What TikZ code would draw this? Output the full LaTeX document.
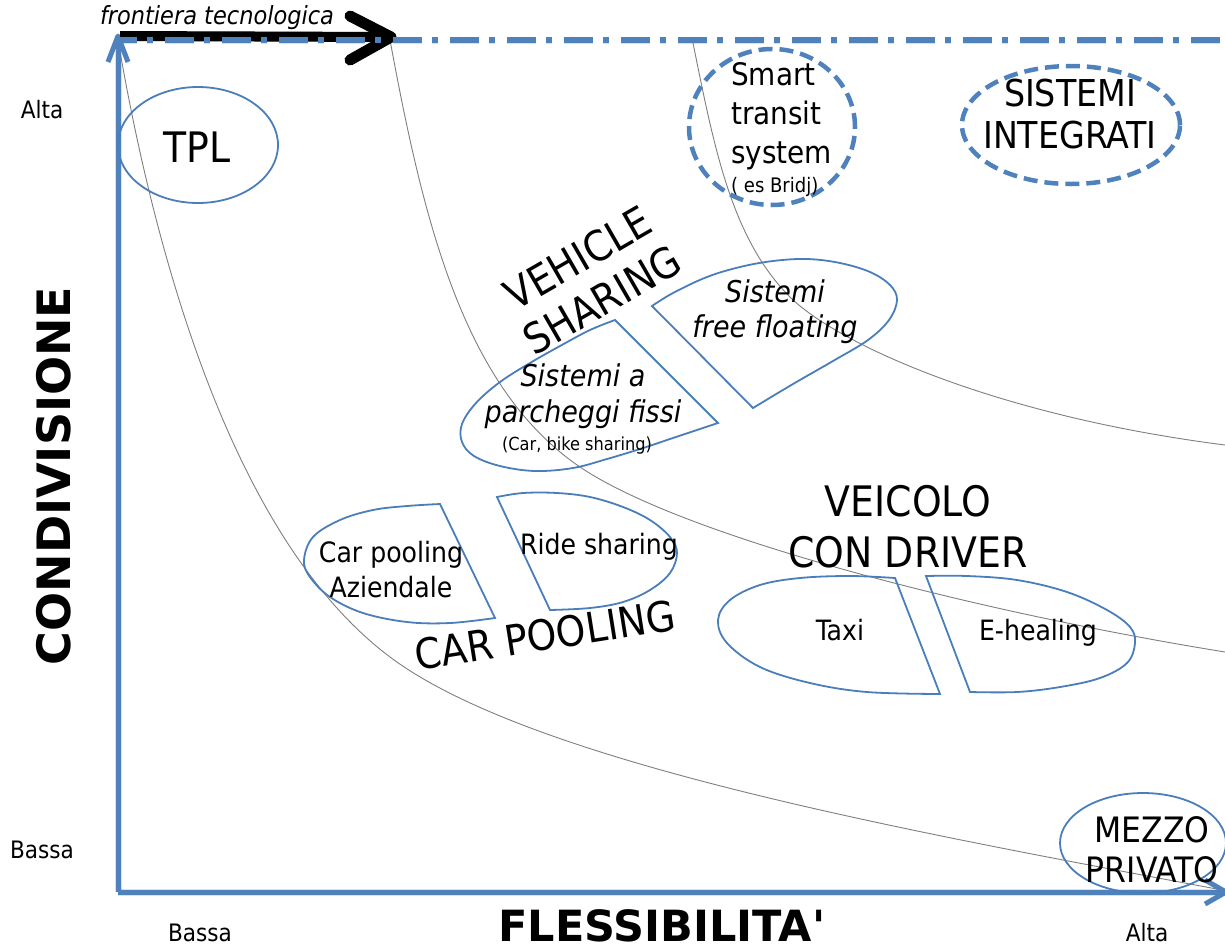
\documentclass[tikz,border=0pt]{standalone}
\usepackage{fontspec}
\setmainfont{DejaVu Sans Condensed}
\newfontfamily\axisfont{DejaVu Sans}
\usetikzlibrary{arrows.meta}
\definecolor{axblue}{HTML}{4F81BD}
\definecolor{shapeblue}{HTML}{4A7EBB}
\definecolor{curvegray}{HTML}{7F7F7F}
\newcommand\fsz[2]{\fontsize{#1}{#2}\selectfont}
\begin{document}
\begin{tikzpicture}[x=1pt,y=-1pt,
  axisline/.style={axblue, line width=5pt},
  shadowline/.style={black, opacity=0.12, line width=7pt, shift={(1.5,3)}},
  frontdash/.style={dash pattern=on 29pt off 10pt on 6pt off 12pt, dash phase=10pt},
  curve/.style={curvegray, line width=0.9pt},
  region/.style={shapeblue, line width=1.8pt, line join=miter},
  dashreg/.style={axblue, line width=4.5pt, dash pattern=on 14pt off 7pt},
  lbl/.style={inner sep=0pt, text=black, align=center},
]
\useasboundingbox (0,0) rectangle (1225,951);

% key points
\coordinate (O) at (118,892);
\coordinate (Ytop) at (118,36);
\coordinate (YarmA) at (108,62);
\coordinate (YarmB) at (128,62);
\coordinate (Xend) at (1226,892);
\coordinate (XarmA) at (1205,880);
\coordinate (XarmB) at (1205,904);
\coordinate (FrontL) at (118,40);
\coordinate (FrontR) at (1225,40);
\coordinate (BlackL) at (120,36);
\coordinate (BlackTip) at (391,37);
\coordinate (BlackA) at (350,16);
\coordinate (BlackB) at (350,60);

% soft shadows
\draw[shadowline] (O) -- (Ytop);
\draw[shadowline] (O) -- (Xend);
\draw[shadowline, line width=10pt] (BlackL) -- (BlackTip);
\draw[shadowline, frontdash] (FrontL) -- (FrontR);

% iso curves
\coordinate (c1a) at (118,40);
\coordinate (c1m) at (390,657);
\coordinate (c1b) at (1222,890);
\coordinate (c2a) at (390,40);
\coordinate (c2m) at (580,467);
\coordinate (c2b) at (1225,652);
\coordinate (c3a) at (692,38);
\coordinate (c3m) at (790,297);
\coordinate (c3b) at (1225,445);
\draw[curve] (c1a) .. controls (158,273) and (238,543) .. (c1m) .. controls (534,765) and (925,834) .. (c1b);
\draw[curve] (c2a) .. controls (424,224) and (464,388) .. (c2m) .. controls (679,534) and (960,609) .. (c2b);
\draw[curve] (c3a) .. controls (714,147) and (731,238) .. (c3m) .. controls (835,342) and (990,415) .. (c3b);

% axes
\draw[axisline] (O) -- (Ytop);
\draw[axisline, line join=round] (YarmA) -- (Ytop) -- (YarmB);
\draw[axisline] (O) -- (Xend);
\draw[axisline, line join=round] (XarmA) -- (Xend) -- (XarmB);

% frontiera tecnologica arrow
\draw[black, line width=10pt] (BlackL) -- (BlackTip);
\draw[black, line width=11pt, line cap=round, line join=round] (BlackA) -- (BlackTip) -- (BlackB);
\draw[axblue, line width=5.5pt, frontdash] (FrontL) -- (FrontR);

% ellipses
\draw[region] (198,145) ellipse [x radius=80pt, y radius=58pt];
\draw[region] (1143,843) ellipse [x radius=83pt, y radius=50pt];
\draw[dashreg] (772,127) ellipse [x radius=83pt, y radius=78pt];
\draw[dashreg] (1071,125) ellipse [x radius=109pt, y radius=59pt];

% cut ellipses
\draw[region] plot[smooth, tension=0.6] coordinates {(615,320) (590,330) (560,346) (530,363) (500,382) (476,403) (462,424) (462,442) (474,456) (500,466) (535,471) (573,468) (607,459) (640,449) (673,438) (718,423)} -- cycle;
\draw[region] plot[smooth, tension=0.6] coordinates {(652,306) (673,293) (707,277) (740,267) (773,261) (807,259) (840,263) (870,272) (890,285) (897,300) (889,320) (868,340) (833,361) (793,384) (753,408)} -- cycle;
\draw[region] plot[smooth, tension=0.6] coordinates {(440,504) (407,506) (373,510) (340,520) (313,537) (304,560) (310,577) (330,597) (363,613) (407,622) (450,623) (495,618)} -- cycle;
\draw[region] plot[smooth, tension=0.6] coordinates {(497,497) (523,493) (557,493) (590,497) (623,507) (650,520) (670,537) (677,553) (670,573) (650,590) (623,602) (590,608) (550,610)} -- cycle;
\draw[region] plot[smooth, tension=0.6] coordinates {(895,578) (850,576) (800,578) (760,585) (730,600) (718,620) (727,643) (760,667) (810,683) (867,692) (940,694)} -- cycle;
\draw[region] plot[smooth, tension=0.6] coordinates {(926,576) (967,576) (1017,580) (1067,592) (1107,610) (1130,627) (1135,643) (1127,663) (1100,678) (1060,687) (1017,692) (970,692)} -- cycle;

% texts
\node[lbl, font=\itshape\fsz{25}{30}] (front) at (217,18) {frontiera tecnologica};
\node[lbl, font=\fsz{24}{28}] (altaY) at (42,110) {Alta};
\node[lbl, font=\fsz{24}{28}] (bassaY) at (42,850) {Bassa};
\node[lbl, font=\fsz{24}{28}] (bassaX) at (200,933) {Bassa};
\node[lbl, font=\fsz{24}{28}] (altaX) at (1147,933) {Alta};
\node[lbl, rotate=90, font=\axisfont\bfseries\fsz{46}{50}] (cond) at (54,476) {CONDIVISIONE};
\node[lbl, font=\axisfont\bfseries\fsz{43}{48}] (fless) at (662,926) {FLESSIBILITA'};

\node[lbl, font=\fsz{42}{48}] (tpl) at (197,147) {TPL};
\node[lbl, anchor=west, align=left, font=\fsz{31}{39}] (smart) at (731,116) {Smart\\transit\\system};
\node[lbl, anchor=west, font=\fsz{20}{23}] (bridj) at (731,187) {( es Bridj)};
\node[lbl, font=\fsz{37}{42}] (integr) at (1070,114) {SISTEMI\\INTEGRATI};
\node[lbl, rotate=30, font=\fsz{42}{49}] (vshare) at (590,279) {VEHICLE\\SHARING};
\node[lbl, font=\itshape\fsz{30}{36}] (fissi) at (583,396) {Sistemi a\\parcheggi fissi};
\node[lbl, font=\fsz{18}{21}] (carbike) at (577,446) {(Car, bike sharing)};
\node[lbl, font=\itshape\fsz{30}{35}] (free) at (775,312) {Sistemi\\free floating};
\node[lbl, font=\fsz{28}{35}] (cpaz) at (391,570) {Car pooling\\Aziendale};
\node[lbl, font=\fsz{28}{33}] (ride) at (599,547) {Ride sharing};
\node[lbl, rotate=9, font=\fsz{42}{48}] (carpool) at (545,635) {CAR POOLING};
\node[lbl, font=\fsz{42}{51}] (driver) at (908,527) {VEICOLO\\CON DRIVER};
\node[lbl, font=\fsz{28}{33}] (taxi) at (840,630) {Taxi};
\node[lbl, font=\fsz{28}{33}] (ehealing) at (1038,633) {E-healing};
\node[lbl, font=\fsz{35}{40}] (mezzo) at (1152,850) {MEZZO\\PRIVATO};
\end{tikzpicture}
\end{document}
